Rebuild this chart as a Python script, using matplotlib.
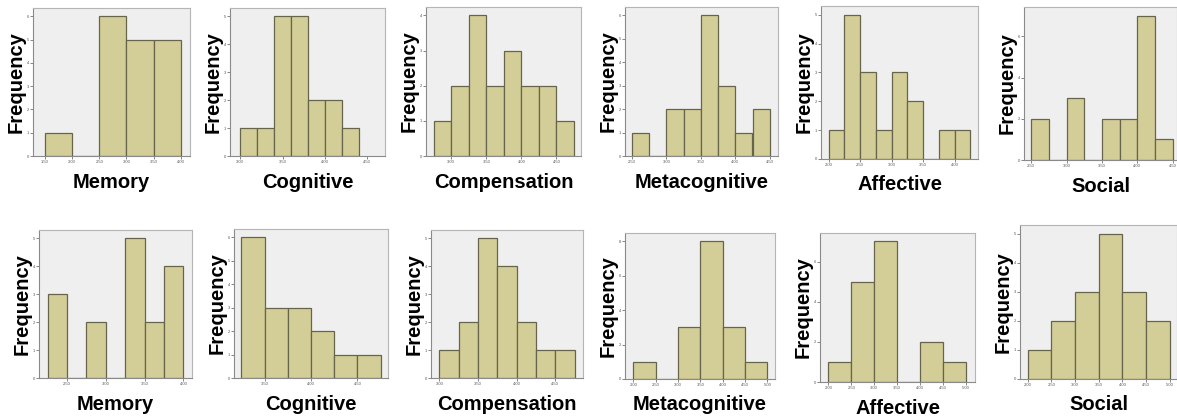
import matplotlib
matplotlib.use("Agg")
import matplotlib.pyplot as plt
import numpy as np

plt.rcParams["font.family"] = ["Liberation Sans", "DejaVu Sans"]

FIG_W, FIG_H = 1177, 416

# strategy scale names, one panel per column
names = ["Memory", "Cognitive", "Compensation", "Metacognitive", "Affective", "Social"]

# top row: histogram bins (first edge, width) and counts
top_start = [1.50, 3.00, 2.75, 2.50, 2.00, 2.50]
top_width = [0.50, 0.20, 0.25, 0.25, 0.25, 0.25]
top_counts = [
    [1, 0, 6, 5, 5],
    [1, 1, 5, 5, 2, 2, 1],
    [1, 2, 4, 2, 3, 2, 2, 1],
    [1, 0, 2, 2, 6, 3, 1, 2],
    [1, 5, 3, 1, 3, 2, 0, 1, 1],
    [2, 0, 3, 0, 2, 2, 7, 1],
]
top_xticks = [
    [1.5, 2.0, 2.5, 3.0, 3.5, 4.0],
    [3.0, 3.5, 4.0, 4.5],
    [3.0, 3.5, 4.0, 4.5],
    [2.5, 3.0, 3.5, 4.0, 4.5],
    [2.0, 2.5, 3.0, 3.5, 4.0],
    [2.5, 3.0, 3.5, 4.0, 4.5],
]
top_xlim = [(1.28, 4.17), (2.88, 4.71), (2.64, 4.85), (2.40, 4.62), (1.88, 4.37), (2.40, 4.56)]
top_ystep = [1, 1, 1, 1, 1, 2]

# bottom row
bot_start = [2.25, 3.25, 3.00, 2.00, 2.00, 2.00]
bot_width = [0.25, 0.25, 0.25, 0.50, 0.50, 0.50]
bot_counts = [
    [3, 0, 2, 0, 5, 2, 4],
    [6, 3, 3, 2, 1, 1],
    [1, 2, 5, 4, 2, 1, 1],
    [1, 0, 3, 8, 3, 1],
    [1, 5, 7, 0, 2, 1],
    [1, 2, 3, 5, 3, 2],
]
bot_xticks = [
    [2.5, 3.0, 3.5, 4.0],
    [3.5, 4.0, 4.5],
    [3.0, 3.5, 4.0, 4.5],
    [2.0, 2.5, 3.0, 3.5, 4.0, 4.5, 5.0],
    [2.0, 2.5, 3.0, 3.5, 4.0, 4.5, 5.0],
    [2.0, 2.5, 3.0, 3.5, 4.0, 4.5, 5.0],
]
bot_xlim = [(2.14, 4.11), (3.17, 4.83), (2.89, 4.86), (1.81, 5.17), (1.82, 5.19), (1.84, 5.15)]
bot_ystep = [1, 1, 1, 2, 2, 1]

# axes boxes in pixels: (left, right, top, bottom)
top_boxes = [(33, 190, 8, 156), (230, 385, 8, 156), (426, 581, 7, 156),
             (625, 778, 7, 156), (821, 978, 6, 159), (1024, 1177, 7, 160)]
bot_boxes = [(39, 192, 230, 378), (234, 388, 229, 378), (431, 583, 230, 378),
             (625, 775, 233, 379), (820, 975, 233, 382), (1020, 1177, 225, 379)]

BAR_FACE = "#d3ce97"
BAR_EDGE = "#66644a"
PANEL_BG = "#efefef"


def draw_hist(fig, box, name, start, width, counts, xticks, xlim, ystep):
    l, r, t, b = box
    ax = fig.add_axes([l / FIG_W, 1 - b / FIG_H, (r - l) / FIG_W, (b - t) / FIG_H])
    ax.set_facecolor(PANEL_BG)
    edges = start + width * np.arange(len(counts))
    ax.bar(edges, counts, width=width, align="edge", color=BAR_FACE,
           edgecolor=BAR_EDGE, linewidth=0.9, zorder=2)
    top = max(counts)
    ax.set_ylim(0, top * 1.06)
    ax.set_xlim(*xlim)
    ax.set_yticks(np.arange(0, top + 1, ystep))
    ax.set_xticks(xticks)
    ax.set_xticklabels([f"{v:.2f}" for v in xticks])
    ax.tick_params(labelsize=3, length=2, width=0.5, pad=1, colors="#555555")
    for side in ("left", "bottom"):
        ax.spines[side].set_color("#8a8a8a")
        ax.spines[side].set_linewidth(0.8)
    for side in ("top", "right"):
        ax.spines[side].set_color("#b5b5b5")
        ax.spines[side].set_linewidth(0.8)
    ax.set_ylabel("Frequency", fontsize=14.5, fontweight="bold", labelpad=0.5)
    ax.set_xlabel(name, fontsize=14.5, fontweight="bold", labelpad=6)
    return ax


fig = plt.figure(figsize=(FIG_W / 100, FIG_H / 100), dpi=100)
fig.patch.set_facecolor("white")

for i, name in enumerate(names):
    draw_hist(fig, top_boxes[i], name, top_start[i], top_width[i], top_counts[i],
              top_xticks[i], top_xlim[i], top_ystep[i])
    draw_hist(fig, bot_boxes[i], name, bot_start[i], bot_width[i], bot_counts[i],
              bot_xticks[i], bot_xlim[i], bot_ystep[i])

fig.savefig("out.png", dpi=100, facecolor="white")
